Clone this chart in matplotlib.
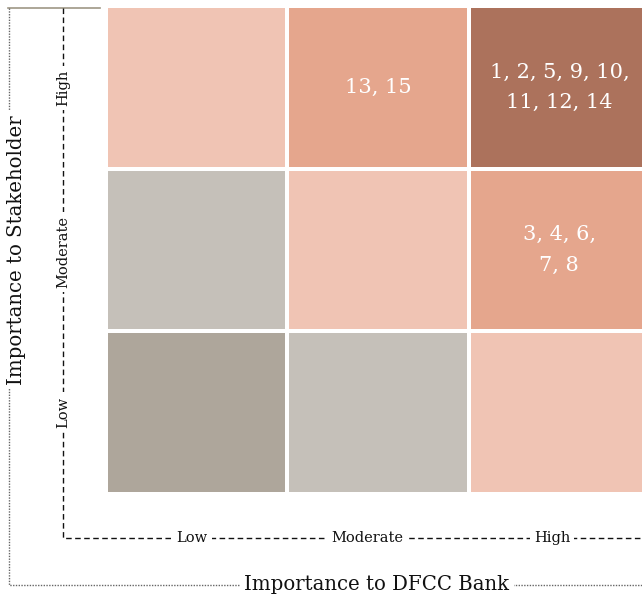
import numpy as np
import matplotlib
matplotlib.use("Agg")
import matplotlib.pyplot as plt
from matplotlib.colors import ListedColormap
from matplotlib.lines import Line2D

# Materiality matrix data
levels = ["Low", "Moderate", "High"]
# rows: stakeholder importance (bottom -> top), cols: DFCC importance (left -> right)
scores = np.array([
    [0, 1, 2],   # Low
    [1, 2, 3],   # Moderate
    [2, 3, 4],   # High
])
cell_labels = {
    (2, 1): "13, 15",
    (2, 2): "1, 2, 5, 9, 10,\n11, 12, 14",
    (1, 2): "3, 4, 6,\n7, 8",
}
palette = ["#aea69b", "#c5c0b9", "#f0c4b4", "#e5a68d", "#ac725c"]

plt.rcParams['font.family'] = ['DejaVu Serif']

W, H = 642, 596
fig = plt.figure(figsize=(W / 100, H / 100), dpi=100)

def fx(px):
    return px / W

def fy(py):
    return 1 - py / H

# heatmap axes (right column runs off the edge, as in the original)
ax = fig.add_axes([fx(106), fy(494), fx(650) - fx(106), fy(6) - fy(494)])
ax.pcolormesh(np.arange(4), np.arange(4), scores, cmap=ListedColormap(palette),
              vmin=-0.5, vmax=4.5, edgecolors="white", linewidth=2.6)
ax.set_xlim(0, 3)
ax.set_ylim(0, 3)
ax.axis("off")
for (r, c), txt in cell_labels.items():
    ax.text(c + 0.5, r + 0.5, txt, ha="center", va="center", color="white",
            fontsize=15, linespacing=1.75)

# decorative frame lines
fig.add_artist(Line2D([fx(8), fx(100)], [fy(8), fy(8)], color="#9e9785", lw=1.2))
fig.add_artist(Line2D([fx(63), fx(63), fx(642)], [fy(8), fy(538), fy(538)],
                      color="#111111", lw=1, ls=(0, (4, 2.5))))
fig.add_artist(Line2D([fx(9), fx(9), fx(642)], [fy(8), fy(585), fy(585)],
                      color="#666666", lw=1, ls=(0, (1, 1))))

box = dict(facecolor="white", edgecolor="none", pad=3)

# inner level labels
col_px = [192, 367, 552]
row_px = [412, 252, 88]
for lab, x in zip(levels, col_px):
    fig.text(fx(x), fy(538), lab, ha="center", va="center", fontsize=10.5,
             color="#111111", bbox=box)
for lab, y in zip(levels, row_px):
    fig.text(fx(63), fy(y), lab, ha="center", va="center", fontsize=10.5,
             color="#111111", rotation=90, bbox=box)

# axis titles
fig.text(fx(377), fy(585), "Importance to DFCC Bank", ha="center", va="center",
         fontsize=14.2, color="#111111", bbox=box)
fig.text(fx(17), fy(250), "Importance to Stakeholder", ha="center", va="center",
         fontsize=14.2, color="#111111", rotation=90, bbox=box)

fig.savefig("out.png", dpi=100)
